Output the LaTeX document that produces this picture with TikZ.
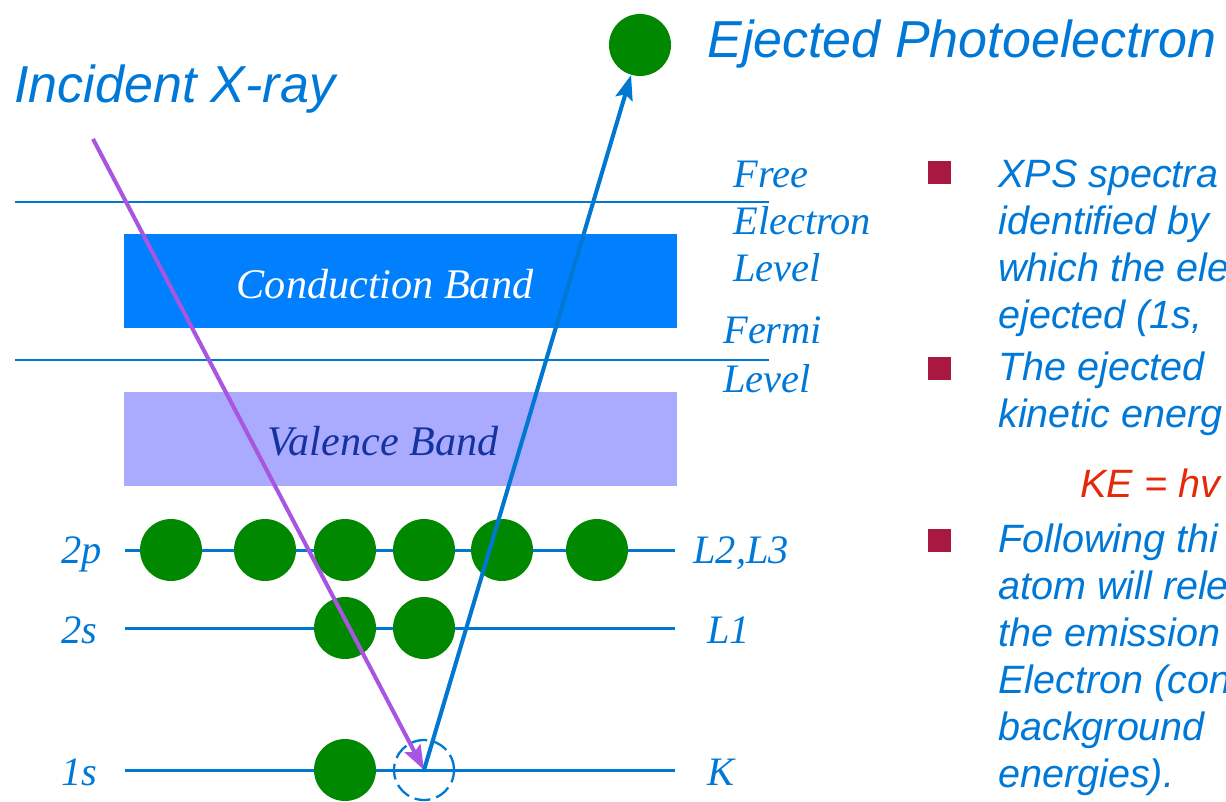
\documentclass[tikz,border=0pt]{standalone}
\usepackage{fontspec}
\setmainfont{Liberation Serif}
\setsansfont{Liberation Sans}
\usetikzlibrary{positioning, arrows.meta}

\definecolor{textblue}{RGB}{0,120,215}
\definecolor{lineblue}{RGB}{0,120,210}
\definecolor{cbblue}{RGB}{0,128,255}
\definecolor{vbfill}{RGB}{170,170,255}
\definecolor{vbtext}{RGB}{20,50,160}
\definecolor{xpurple}{RGB}{168,85,224}
\definecolor{egreen}{RGB}{0,136,0}
\definecolor{bulred}{RGB}{168,24,64}
\definecolor{kered}{RGB}{230,40,10}

\begin{document}
\begin{tikzpicture}[
        x=0.02cm, y=-0.02cm,
        lvl/.style={draw=lineblue, line width=1.7pt},
        edge/.style={draw=lineblue, line width=1.1pt},
        band/.style={rectangle, minimum width=11.06cm, minimum height=1.88cm, inner sep=0},
        elec/.style={circle, fill=egreen, minimum size=1.24cm, inner sep=0},
        hole/.style={circle, draw=lineblue, dash pattern=on 9pt off 3.5pt, line width=1.3pt, minimum size=1.2cm, inner sep=0},
        lbl/.style={font=\itshape\fontsize{23}{26}\selectfont, text=textblue, anchor=base west, inner sep=0},
        title/.style={font=\sffamily\itshape\fontsize{29.6}{34}\selectfont, text=textblue, anchor=base west, inner sep=0},
        txt/.style={font=\sffamily\itshape\fontsize{22.5}{26.6}\selectfont, text=textblue, anchor=base west, inner sep=0},
        bul/.style={rectangle, fill=bulred, minimum size=0.46cm, inner sep=0},
        arrow/.style={-{Stealth[length=14pt, width=10pt, inset=2.5pt]}, line width=2.3pt}
    ]
    \useasboundingbox (0,0) rectangle (1226,801);
    \clip (0,0) rectangle (1226,801);

    % Bands
    \node[band, fill=cbblue] (cband) at (400.5,281) {};
    \node[band, fill=vbfill] (vband) at (400.5,439) {};
    \node[font=\itshape\fontsize{24}{28}\selectfont, text=white, anchor=base, inner sep=0] (ctext) at (385,298) {Conduction Band};
    \node[font=\itshape\fontsize{24}{28}\selectfont, text=vbtext, anchor=base, inner sep=0] (vtext) at (383,455) {Valence Band};

    % Free electron and Fermi levels
    \draw[edge] (15,202) -- (769,202);
    \draw[edge] (15,360) -- (769,360);

    % Core levels
    \draw[lvl] (125,550) -- (675,550);
    \draw[lvl] (125,628) -- (675,628);
    \draw[lvl] (125,770) -- (675,770);

    % Electrons
    \foreach \x [count=\i] in {171,265,345,424,502,597}
        \node[elec] (p\i) at (\x,550) {};
    \node[elec] (s1) at (345,628) {};
    \node[elec] (s2) at (424,628) {};
    \node[elec] (k1) at (345,770) {};
    \node[hole] (hole) at (424,770) {};
    \node[elec] (ejected) at (640,45) {};

    % Level labels
    \node[lbl] (l2p) at (61,563) {2p};
    \node[lbl] (l2s) at (61,643) {2s};
    \node[lbl] (l1s) at (61,785) {1s};
    \node[lbl] (lL23) at (693,563) {L2,L3};
    \node[lbl] (lL1) at (707,643) {L1};
    \node[lbl] (lK) at (707,785) {K};
    \node[lbl] (free) at (733,187) {Free};
    \node[lbl] (elvl) at (733,234) {Electron};
    \node[lbl] (flvl) at (733,281) {Level};
    \node[lbl] (fermi) at (723,343) {Fermi};
    \node[lbl] (fermilvl) at (723,392) {Level};

    % Titles
    \node[title] (xtitle) at (14,102) {Incident X-ray};
    \node[title] (etitle) at (707,57) {Ejected Photoelectron};

    % Arrows
    \coordinate (xray) at (93,139);
    \draw[arrow, xpurple] (xray) -- (hole.center);
    \draw[arrow, lineblue] (hole.center) -- (ejected);

    % Bullet text
    \node[bul] (b1) at (939,172) {};
    \node[bul] (b2) at (939,368) {};
    \node[bul] (b3) at (939,540) {};
    \foreach \t [count=\i] in {XPS spectra, identified by, which the ele, {ejected (1s,}}
        \node[txt] (ta\i) at (998,187+47*\i-47) {\t};
    \foreach \t [count=\i] in {The ejected, kinetic energ}
        \node[txt] (tb\i) at (998,380+47*\i-47) {\t};
    \node[txt, text=kered] (ke) at (1080,497) {KE = hv};
    \foreach \t [count=\i] in {Following thi, atom will rele, the emission, Electron (con, background, energies).}
        \node[txt] (tc\i) at (998,552+47*\i-47) {\t};
\end{tikzpicture}
\end{document}
